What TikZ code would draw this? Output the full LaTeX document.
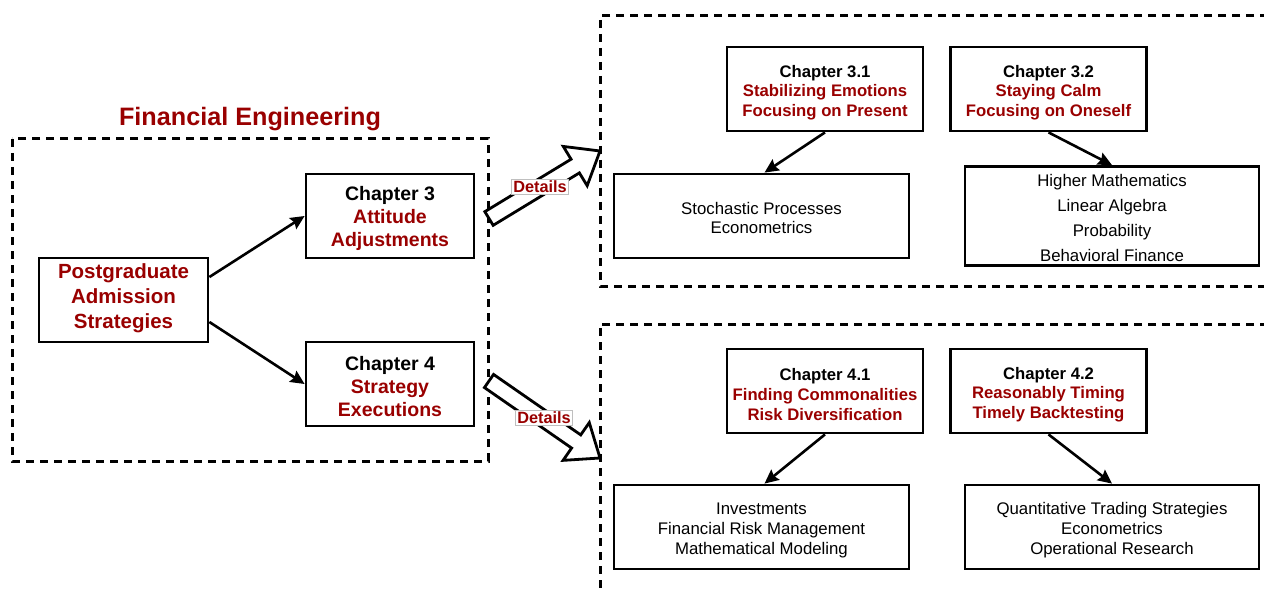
\documentclass[tikz,border=0pt]{standalone}
\usepackage{fontspec}
\setmainfont{Liberation Sans}
\usetikzlibrary{calc,arrows.meta}
\definecolor{dred}{HTML}{990000}
\newcommand{\topstrut}[1]{\rule{0pt}{#1}}
\begin{document}
\begin{tikzpicture}[x=1pt,y=-1pt,
  box/.style={draw,line width=2.8pt,inner sep=0pt,align=center},
  dashbox/.style={line width=3pt,dash pattern=on 8pt off 6pt},
  conn/.style={line width=2.6pt,-{Stealth[length=14pt,width=13pt,inset=2pt]}},
  chap/.style={box,minimum width=196pt,minimum height=84pt,font=\bfseries\fontsize{16.7}{19.6}\selectfont},
  lst/.style={box,font=\fontsize{16.8}{19.8}\selectfont},
  big/.style={box,minimum width=168pt,minimum height=84pt,font=\bfseries\fontsize{19.5}{23}\selectfont},
  blockarrow/.style={line width=2.8pt,fill=white,line join=miter},
  tag/.style={draw=black!25,line width=0.6pt,fill=white,inner sep=1.5pt,text=dred,font=\bfseries\fontsize{16.3}{18}\selectfont}
]
\useasboundingbox (0,0) rectangle (1264,591);

% title and dashed frames
\node[text=dred,font=\bfseries\fontsize{25.2}{28}\selectfont] (title) at (250,119) {Financial Engineering};
\draw[dashbox] (12,139) rectangle (488,461);
\draw[dashbox] (1268,16) -- (600,16) -- (600,286) -- (1268,286);
\draw[dashbox] (1268,324) -- (600,324) -- (600,595);

% left part
\node[box,minimum width=169pt,minimum height=84pt,text=dred,font=\bfseries\fontsize{20.5}{25}\selectfont] (pg) at (123.5,300) {Postgraduate\\Admission\\Strategies\rule[-8pt]{0pt}{0pt}};
\node[big] (c3) at (390,216) {\topstrut{20pt}Chapter 3\\\textcolor{dred}{Attitude}\\\textcolor{dred}{Adjustments}};
\node[big] (c4) at (390,384) {\topstrut{20pt}Chapter 4\\\textcolor{dred}{Strategy}\\\textcolor{dred}{Executions}};
\draw[conn] ($(pg.east)+(0,-23)$) -- (c3.west);
\draw[conn] ($(pg.east)+(0,22)$) -- (c4.west);

% upper right
\node[chap] (c31) at (825,89) {\topstrut{19pt}Chapter 3.1\\\textcolor{dred}{Stabilizing Emotions}\\\textcolor{dred}{Focusing on Present}};
\node[chap] (c32) at (1048.5,89) {\topstrut{19pt}Chapter 3.2\\\textcolor{dred}{Staying Calm}\\\textcolor{dred}{Focusing on Oneself}};
\node[lst,minimum width=295pt,minimum height=84pt] (sp) at (761.5,216) {\topstrut{16pt}Stochastic Processes\\Econometrics};
\node[lst,minimum width=294pt,minimum height=99pt,font=\fontsize{16.8}{25}\selectfont] (hm) at (1112,216) {\topstrut{16.5pt}Higher Mathematics\\Linear Algebra\\Probability\\Behavioral Finance};
\draw[conn] (c31.south) -- ($(sp.north)+(3,0)$);
\draw[conn] (c32.south) -- (hm.north);

% lower right
\node[chap] (c41) at (825,391) {\topstrut{19pt}Chapter 4.1\\\textcolor{dred}{Finding Commonalities}\\\textcolor{dred}{Risk Diversification}};
\node[chap] (c42) at (1048.5,391) {\topstrut{19pt}Chapter 4.2\\\textcolor{dred}{Reasonably Timing}\\\textcolor{dred}{Timely Backtesting}};
\node[lst,minimum width=295pt,minimum height=84pt] (inv) at (761.5,527) {\topstrut{18pt}Investments\\Financial Risk Management\\Mathematical Modeling};
\node[lst,minimum width=294pt,minimum height=84pt] (qt) at (1112,527) {\topstrut{18pt}Quantitative Trading Strategies\\Econometrics\\Operational Research};
\draw[conn] (c41.south) -- ($(inv.north)+(3,0)$);
\draw[conn] (c42.south) -- (qt.north);

% block arrows
\coordinate (a1) at (489,218.5);
\coordinate (b1) at (600,151);
\coordinate (h1) at ($(b1)!29pt!(a1)$);
\draw[blockarrow] ($(a1)!8pt!90:(b1)$) -- ($(h1)!8pt!-90:(a1)$) -- ($(h1)!23pt!-90:(a1)$) -- (b1)
  -- ($(h1)!23pt!90:(a1)$) -- ($(h1)!8pt!90:(a1)$) -- ($(a1)!8pt!-90:(b1)$) -- cycle;
\coordinate (a2) at (489,381);
\coordinate (b2) at (600,458);
\coordinate (h2) at ($(b2)!29pt!(a2)$);
\draw[blockarrow] ($(a2)!8pt!90:(b2)$) -- ($(h2)!8pt!-90:(a2)$) -- ($(h2)!23pt!-90:(a2)$) -- (b2)
  -- ($(h2)!23pt!90:(a2)$) -- ($(h2)!8pt!90:(a2)$) -- ($(a2)!8pt!-90:(b2)$) -- cycle;
\node[tag] (d1) at (540,187) {Details};
\node[tag] (d2) at (544,418) {Details};
\end{tikzpicture}
\end{document}
